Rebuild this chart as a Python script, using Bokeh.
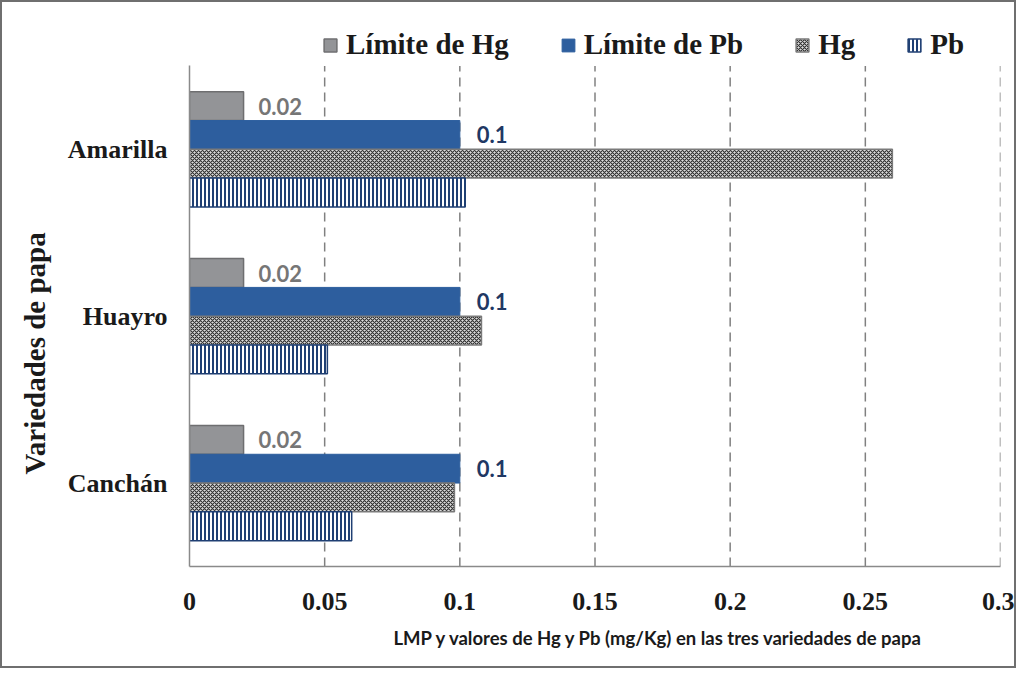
from bokeh.plotting import figure
from bokeh.models import (ColumnDataSource, Range1d, FixedTicker, Legend,
                          LegendItem, Title)
from bokeh.transform import dodge
from bokeh.core.properties import value
from bokeh.embed import file_html
from bokeh.resources import INLINE

# ---------------- data ----------------
varieties = ["Canchán", "Huayro", "Amarilla"]          # bottom -> top
limite_hg = [0.02, 0.02, 0.02]
limite_pb = [0.1, 0.1, 0.1]
hg_values = [0.098, 0.108, 0.26]
pb_values = [0.06, 0.051, 0.102]
series_names = ["Límite de Hg", "Límite de Pb", "Hg", "Pb"]
x_ticks = [0, 0.05, 0.1, 0.15, 0.2, 0.25, 0.3]
x_tick_labels = ["0", "0.05", "0.1", "0.15", "0.2", "0.25", "0.3"]
x_title = "LMP y valores de Hg y Pb (mg/Kg) en las tres variedades de papa"
y_title = "Variedades de papa"

cat_pos = list(range(len(varieties)))
source = ColumnDataSource(dict(
    pos=cat_pos,
    lim_hg=limite_hg,
    lim_pb=limite_pb,
    hg=hg_values,
    pb=pb_values,
    lim_hg_txt=[f"{v:g}" for v in limite_hg],
    lim_pb_txt=[f"{v:g}" for v in limite_pb],
))

y_lo, y_hi = -0.5, len(varieties) - 0.5
legend_room = 0.272          # room above the bars for the legend (in category units)

p = figure(width=1016, height=668, output_backend="svg", toolbar_location=None,
           y_range=Range1d(y_lo, y_hi + legend_room), x_range=Range1d(0, 0.3),
           min_border_left=186, min_border_right=18, min_border_top=18,
           min_border_bottom=104)
p.styles = {"border": "2px solid #6f6f6f", "box-sizing": "border-box"}
p.background_fill_color = "white"
p.border_fill_color = "white"
p.outline_line_color = None

# dashed vertical grid lines (limited to the bar area)
p.segment(x0=x_ticks[1:], x1=x_ticks[1:], y0=[y_lo] * (len(x_ticks) - 1),
          y1=[y_hi] * (len(x_ticks) - 1), line_color="#808080", line_width=1.5,
          line_dash="9 6")

bar_h = 0.1725
offs = [1.5 * bar_h, 0.5 * bar_h, -0.5 * bar_h, -1.5 * bar_h]

r1 = p.hbar(y=dodge("pos", offs[0]), right="lim_hg", height=bar_h,
            source=source, fill_color="#939497", line_color="#6e6e70", line_width=1.5)
r2 = p.hbar(y=dodge("pos", offs[1]), right="lim_pb", height=bar_h,
            source=source, fill_color="#2d5e9e", line_color="#2d5e9e", line_width=1)
r3 = p.hbar(y=dodge("pos", offs[2]), right="hg", height=bar_h,
            source=source, fill_color="#dcdcdc", line_color="#7a7a7a", line_width=1.5,
            hatch_pattern="diagonal_cross", hatch_color="#303030", hatch_scale=4,
            hatch_weight=1.1)
r4 = p.hbar(y=dodge("pos", offs[3]), right="pb", height=bar_h,
            source=source, fill_color="white", line_color="#1f3f73", line_width=1.5,
            hatch_pattern="vertical_line", hatch_color="#1f3f73", hatch_scale=4,
            hatch_weight=2)

p.text(x="lim_hg", y=dodge("pos", offs[0]), text="lim_hg_txt",
       source=source, x_offset=15, text_align="left", text_baseline="middle",
       text_font=value("Lato"), text_font_style="bold", text_font_size="22px",
       text_color="#767676")
p.text(x="lim_pb", y=dodge("pos", offs[1]), text="lim_pb_txt",
       source=source, x_offset=17, text_align="left", text_baseline="middle",
       text_font=value("Lato"), text_font_style="bold", text_font_size="22px",
       text_color="#1f3864")

# axes
p.xaxis.ticker = FixedTicker(ticks=x_ticks)
p.xaxis.major_label_overrides = {t: l for t, l in zip(x_ticks, x_tick_labels)}
p.yaxis.ticker = FixedTicker(ticks=cat_pos)
p.yaxis.major_label_overrides = {i: v for i, v in zip(cat_pos, varieties)}
p.yaxis.bounds = (y_lo, y_hi)
for ax in (p.xaxis[0], p.yaxis[0]):
    ax.axis_line_color = "#8a8a8a"
    ax.axis_line_width = 1.5
    ax.major_tick_line_color = None
    ax.minor_tick_line_color = None
    ax.major_label_text_font = "Liberation Serif"
    ax.major_label_text_font_style = "bold"
    ax.major_label_text_font_size = "26px"
    ax.major_label_text_color = "#1a1a1a"
p.xaxis.major_label_standoff = 20
p.yaxis.major_label_standoff = 16
p.xgrid.grid_line_color = None
p.ygrid.grid_line_color = None

# titles
p.add_layout(Title(text=y_title, align="left", offset=92, standoff=28,
                   text_font="Liberation Serif", text_font_style="bold",
                   text_font_size="29px", text_color="#1a1a1a"), "left")
p.add_layout(Title(text=x_title, align="left", offset=204, standoff=24,
                   text_font="Lato", text_font_style="bold",
                   text_font_size="18.5px", text_color="#1a1a1a"), "below")

legend = Legend(items=[LegendItem(label=n, renderers=[r]) for n, r in
                       zip(series_names, [r1, r2, r3, r4])],
                orientation="horizontal", location=(133, 505),
                padding=0, margin=0, spacing=51, label_standoff=8,
                glyph_width=16, glyph_height=16,
                label_text_font="Liberation Serif", label_text_font_style="bold",
                label_text_font_size="29px", label_text_color="#1a1a1a",
                background_fill_alpha=0, border_line_color=None)
p.add_layout(legend)

open("out.html", "w").write(file_html(p, INLINE))
